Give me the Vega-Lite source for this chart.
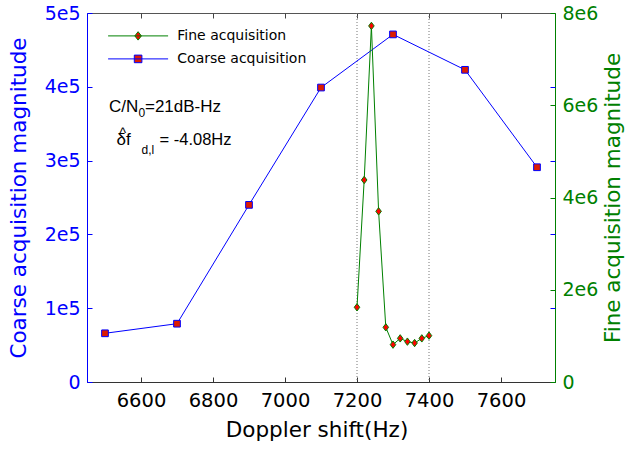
{
  "$schema": "https://vega.github.io/schema/vega-lite/v6.json",
  "width": 468,
  "height": 369,
  "autosize": {"type": "none"},
  "padding": {"left": 87, "top": 13, "right": 74, "bottom": 67},
  "background": "white",
  "config": {
    "view": {"stroke": "#555", "strokeWidth": 1},
    "font": "DejaVu Sans",
    "axis": {"grid": false, "labelFont": "DejaVu Sans", "titleFont": "DejaVu Sans", "titleFontWeight": "normal"}
  },
  "datasets": {
    "series": [
      {"series": "Coarse acquisition", "x": 6500, "value": 66000},
      {"series": "Coarse acquisition", "x": 6700, "value": 79000},
      {"series": "Coarse acquisition", "x": 6900, "value": 240000},
      {"series": "Coarse acquisition", "x": 7100, "value": 399000},
      {"series": "Coarse acquisition", "x": 7300, "value": 471000},
      {"series": "Coarse acquisition", "x": 7500, "value": 423000},
      {"series": "Coarse acquisition", "x": 7700, "value": 291000},
      {"series": "Fine acquisition", "x": 7200, "value": 1620000},
      {"series": "Fine acquisition", "x": 7220, "value": 4380000},
      {"series": "Fine acquisition", "x": 7240, "value": 7720000},
      {"series": "Fine acquisition", "x": 7260, "value": 3700000},
      {"series": "Fine acquisition", "x": 7280, "value": 1185000},
      {"series": "Fine acquisition", "x": 7300, "value": 810000},
      {"series": "Fine acquisition", "x": 7320, "value": 946000},
      {"series": "Fine acquisition", "x": 7340, "value": 875000},
      {"series": "Fine acquisition", "x": 7360, "value": 845000},
      {"series": "Fine acquisition", "x": 7380, "value": 946000},
      {"series": "Fine acquisition", "x": 7400, "value": 1005000}
    ],
    "guides": [{"x": 7200}, {"x": 7400}],
    "note1": [{"x": 6511, "y": 366000, "main": "C/N", "sub": "0", "rest": "=21dB-Hz"}],
    "note2": [{"x": 6532, "y": 321000, "main": "δf", "sub": "d,l", "rest": "= -4.08Hz", "hat": "^"}]
  },
  "layer": [
    {
      "data": {"name": "guides"},
      "mark": {"type": "rule", "color": "#777", "strokeDash": [1, 2], "strokeWidth": 1},
      "encoding": {
        "x": {
          "field": "x", "type": "quantitative",
          "scale": {"domain": [6450, 7750], "nice": false, "zero": false},
          "axis": {"orient": "top", "values": [6600, 6800, 7000, 7200, 7400, 7600], "offset": -5, "tickSize": 5, "labels": false, "title": null, "domain": false, "tickColor": "#444"}
        }
      }
    },
    {
      "data": {"name": "series"},
      "transform": [{"filter": "datum.series === 'Coarse acquisition'"}],
      "mark": {"type": "line", "strokeWidth": 1},
      "encoding": {
        "x": {
          "field": "x", "type": "quantitative",
          "scale": {"domain": [6450, 7750], "nice": false, "zero": false},
          "axis": {"orient": "bottom", "values": [6600, 6800, 7000, 7200, 7400, 7600], "format": "d", "ticks": false, "labelPadding": 9.5, "labelFontSize": 19.5, "labelColor": "black", "domainColor": "#333", "title": "Doppler shift(Hz)", "titleFontSize": 21.5, "titleColor": "black", "titlePadding": 9, "titleX": 229.5}
        },
        "y": {
          "field": "value", "type": "quantitative",
          "scale": {"domain": [0, 500000], "nice": false},
          "axis": {"orient": "left", "values": [0, 100000, 200000, 300000, 400000, 500000], "labelExpr": "datum.value == 0 ? '0' : (datum.value / 100000) + 'e5'", "ticks": false, "labelPadding": 7, "labelFontSize": 19, "labelColor": "#0000ff", "domainColor": "#0000ff", "title": "Coarse acquisition magnitude", "titleFontSize": 21.5, "titleColor": "#0000ff", "titlePadding": 13.5}
        },
        "color": {
          "field": "series", "type": "nominal",
          "scale": {"domain": ["Fine acquisition", "Coarse acquisition"], "range": ["#008000", "#0000ff"]},
          "legend": {
            "orient": "none", "legendX": 40.6, "legendY": 12.4, "title": null, "padding": 0,
            "symbolSize": 400, "symbolStrokeWidth": 1, "rowPadding": 5,
            "labelOffset": 28.7, "labelFontSize": 14, "labelFont": "DejaVu Sans", "labelColor": "black",
            "encode": {
              "symbols": {
                "update": {
                  "shape": {"signal": "datum.value === 'Fine acquisition' ? 'M-3,0L3,0M0,-0.42L0.33,0L0,0.42L-0.33,0Z' : 'M-3,0L3,0M-0.38,-0.38L0.38,-0.38L0.38,0.38L-0.38,0.38Z'"},
                  "fill": {"signal": "datum.value === 'Fine acquisition' ? '#ff0000' : '#dd1c00'"},
                  "stroke": {"signal": "datum.value === 'Fine acquisition' ? '#008000' : '#0000ff'"},
                  "opacity": {"value": 1}
                }
              }
            }
          }
        }
      }
    },
    {
      "data": {"name": "series"},
      "transform": [{"filter": "datum.series === 'Coarse acquisition'"}],
      "mark": {"type": "point", "shape": "square", "filled": true, "fill": "#dd1c00", "stroke": "#0000ff", "strokeWidth": 1, "size": 45, "opacity": 1},
      "encoding": {
        "x": {"field": "x", "type": "quantitative", "scale": {"domain": [6450, 7750], "nice": false, "zero": false},
          "axis": {"orient": "bottom", "values": [6600, 6800, 7000, 7200, 7400, 7600], "offset": -5, "tickSize": 5, "labels": false, "title": null, "domain": false, "tickColor": "#333"}},
        "y": {"field": "value", "type": "quantitative", "scale": {"domain": [0, 500000], "nice": false},
          "axis": {"orient": "left", "values": [0, 100000, 200000, 300000, 400000, 500000], "offset": -5, "tickSize": 5, "labels": false, "title": null, "domain": false, "tickColor": "#0000ff"}}
      }
    },
    {
      "data": {"name": "series"},
      "transform": [{"filter": "datum.series === 'Fine acquisition'"}],
      "mark": {"type": "line", "strokeWidth": 1},
      "encoding": {
        "x": {"field": "x", "type": "quantitative", "scale": {"domain": [6450, 7750], "nice": false, "zero": false}, "axis": null},
        "y": {
          "field": "value", "type": "quantitative",
          "scale": {"domain": [0, 8000000], "nice": false},
          "axis": {"orient": "right", "values": [0, 2000000, 4000000, 6000000, 8000000], "labelExpr": "datum.value == 0 ? '0' : (datum.value / 1000000) + 'e6'", "ticks": false, "labelPadding": 7, "labelFontSize": 19, "labelColor": "#008000", "domainColor": "#008000", "title": "Fine acquisition magnitude", "titleFontSize": 21.5, "titleColor": "#008000", "titleAngle": 270, "titlePadding": 27}
        },
        "color": {
          "field": "series", "type": "nominal",
          "scale": {"domain": ["Fine acquisition", "Coarse acquisition"], "range": ["#008000", "#0000ff"]}
        }
      }
    },
    {
      "data": {"name": "series"},
      "transform": [{"filter": "datum.series === 'Fine acquisition'"}],
      "mark": {"type": "point", "shape": "M0,-1.2L0.9,0L0,1.2L-0.9,0Z", "filled": true, "fill": "#ff0000", "stroke": "#008000", "strokeWidth": 1, "size": 38, "opacity": 1},
      "encoding": {
        "x": {"field": "x", "type": "quantitative", "scale": {"domain": [6450, 7750], "nice": false, "zero": false}, "axis": null},
        "y": {"field": "value", "type": "quantitative", "scale": {"domain": [0, 8000000], "nice": false},
          "axis": {"orient": "right", "values": [0, 2000000, 4000000, 6000000, 8000000], "offset": -5, "tickSize": 5, "labels": false, "title": null, "domain": false, "tickColor": "#008000"}}
      }
    },
    {
      "data": {"name": "note1"},
      "mark": {"type": "text", "align": "left", "baseline": "alphabetic", "font": "Liberation Sans", "fontSize": 17, "color": "black"},
      "encoding": {
        "x": {"field": "x", "type": "quantitative", "scale": {"domain": [6450, 7750], "nice": false, "zero": false}, "axis": null},
        "y": {"field": "y", "type": "quantitative", "scale": {"domain": [0, 500000], "nice": false},
          "axis": {"orient": "right", "values": [100000, 200000, 300000, 400000], "offset": -5, "tickSize": 5, "labels": false, "title": null, "domain": false, "tickColor": "#0000ff"}},
        "text": {"field": "main"}
      }
    },
    {
      "data": {"name": "note1"},
      "mark": {"type": "text", "align": "left", "baseline": "alphabetic", "font": "Liberation Sans", "fontSize": 12, "color": "black", "dx": 29.5, "dy": 5},
      "encoding": {
        "x": {"field": "x", "type": "quantitative", "scale": {"domain": [6450, 7750], "nice": false, "zero": false}, "axis": null},
        "y": {"field": "y", "type": "quantitative", "scale": {"domain": [0, 500000], "nice": false}, "axis": null},
        "text": {"field": "sub"}
      }
    },
    {
      "data": {"name": "note1"},
      "mark": {"type": "text", "align": "left", "baseline": "alphabetic", "font": "Liberation Sans", "fontSize": 17, "color": "black", "dx": 36},
      "encoding": {
        "x": {"field": "x", "type": "quantitative", "scale": {"domain": [6450, 7750], "nice": false, "zero": false}, "axis": null},
        "y": {"field": "y", "type": "quantitative", "scale": {"domain": [0, 500000], "nice": false}, "axis": null},
        "text": {"field": "rest"}
      }
    },
    {
      "data": {"name": "note2"},
      "mark": {"type": "text", "align": "left", "baseline": "alphabetic", "font": "Liberation Sans", "fontSize": 17, "color": "black"},
      "encoding": {
        "x": {"field": "x", "type": "quantitative", "scale": {"domain": [6450, 7750], "nice": false, "zero": false}, "axis": null},
        "y": {"field": "y", "type": "quantitative", "scale": {"domain": [0, 500000], "nice": false}, "axis": null},
        "text": {"field": "main"}
      }
    },
    {
      "data": {"name": "note2"},
      "mark": {"type": "text", "align": "left", "baseline": "alphabetic", "font": "Liberation Sans", "fontSize": 12, "color": "black", "dx": 25, "dy": 9},
      "encoding": {
        "x": {"field": "x", "type": "quantitative", "scale": {"domain": [6450, 7750], "nice": false, "zero": false}, "axis": null},
        "y": {"field": "y", "type": "quantitative", "scale": {"domain": [0, 500000], "nice": false}, "axis": null},
        "text": {"field": "sub"}
      }
    },
    {
      "data": {"name": "note2"},
      "mark": {"type": "text", "align": "left", "baseline": "alphabetic", "font": "Liberation Sans", "fontSize": 16.5, "color": "black", "dx": 43},
      "encoding": {
        "x": {"field": "x", "type": "quantitative", "scale": {"domain": [6450, 7750], "nice": false, "zero": false}, "axis": null},
        "y": {"field": "y", "type": "quantitative", "scale": {"domain": [0, 500000], "nice": false}, "axis": null},
        "text": {"field": "rest"}
      }
    },
    {
      "data": {"name": "note2"},
      "mark": {"type": "text", "align": "left", "baseline": "alphabetic", "font": "Liberation Sans", "fontSize": 14, "color": "black", "dx": 3, "dy": -7},
      "encoding": {
        "x": {"field": "x", "type": "quantitative", "scale": {"domain": [6450, 7750], "nice": false, "zero": false}, "axis": null},
        "y": {"field": "y", "type": "quantitative", "scale": {"domain": [0, 500000], "nice": false}, "axis": null},
        "text": {"field": "hat"}
      }
    }
  ],
  "resolve": {"scale": {"y": "independent"}, "axis": {"x": "independent", "y": "independent"}}
}
